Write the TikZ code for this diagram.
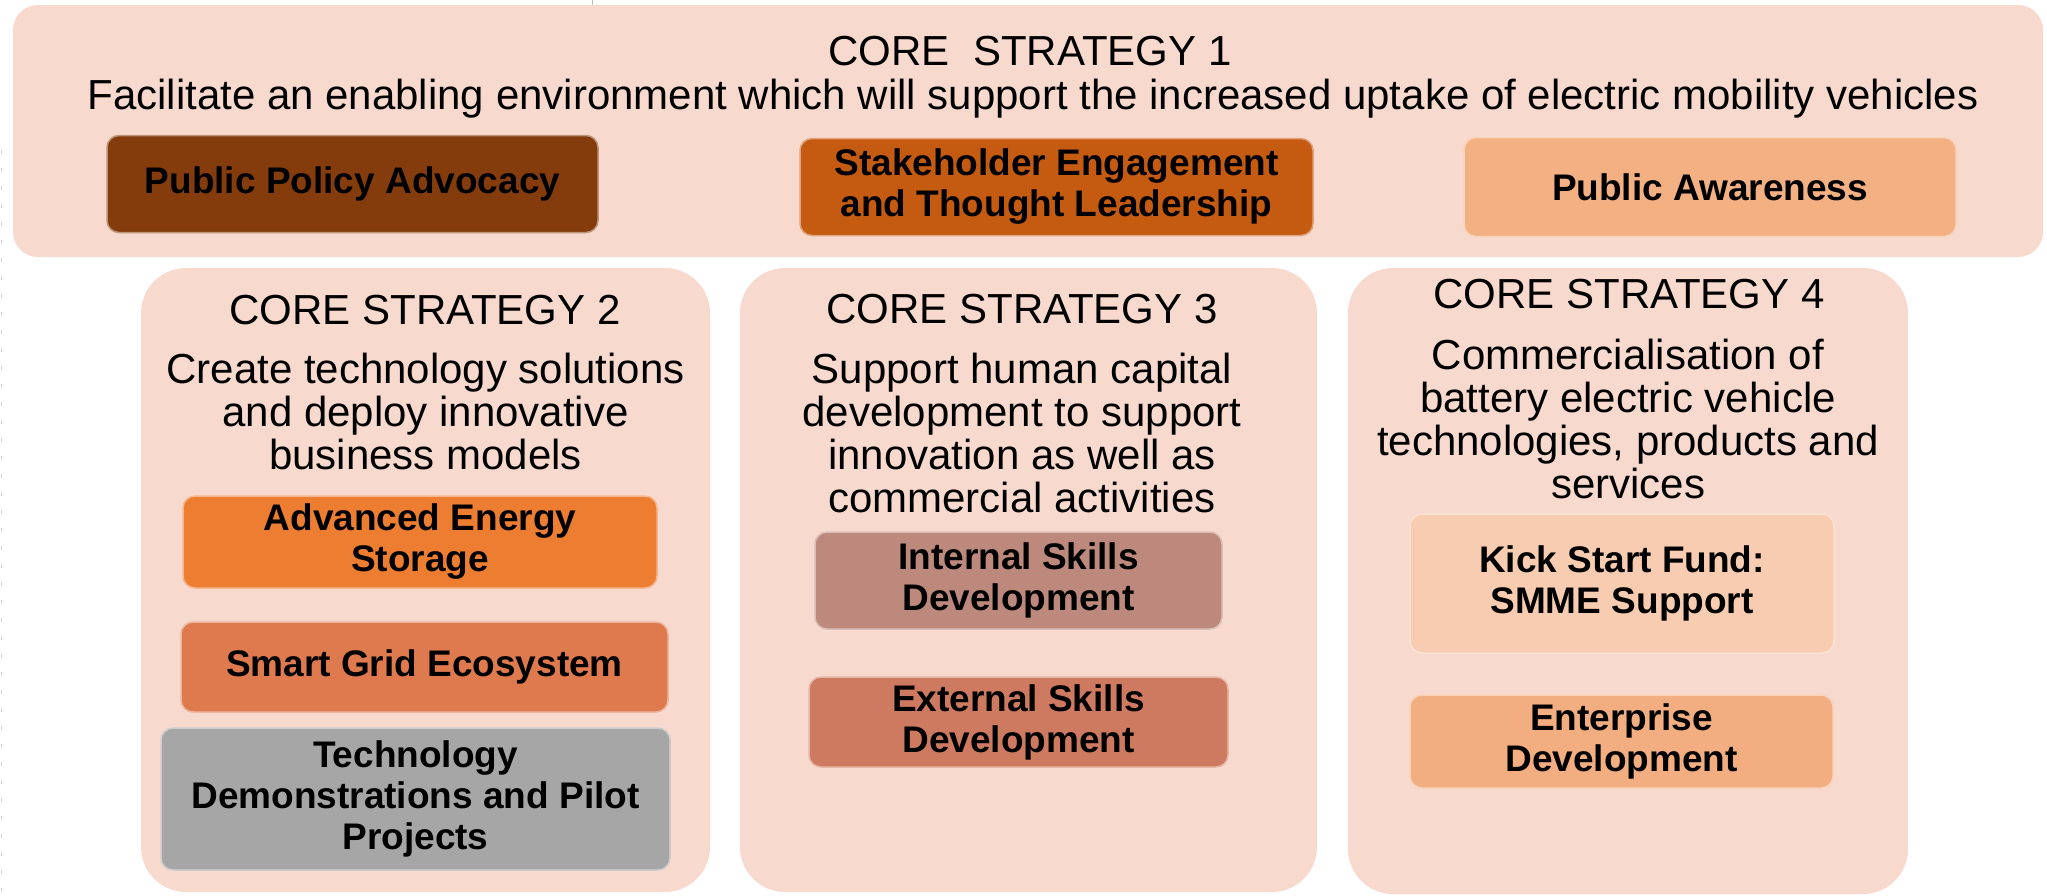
\documentclass[tikz,border=0pt]{standalone}
\usepackage{fontspec}
\setmainfont{Liberation Sans}
\usetikzlibrary{positioning}
\definecolor{panelpeach}{RGB}{248,217,206}
\definecolor{policybrown}{RGB}{132,60,12}
\definecolor{stakeorange}{RGB}{197,90,17}
\definecolor{awarepeach}{RGB}{243,176,131}
\definecolor{storageorange}{RGB}{237,125,49}
\definecolor{gridorange}{RGB}{223,122,78}
\definecolor{demogray}{RGB}{166,166,166}
\definecolor{internalmauve}{RGB}{189,137,124}
\definecolor{externalrust}{RGB}{206,122,97}
\definecolor{kickpeach}{RGB}{248,204,176}
\definecolor{enterprisepeach}{RGB}{242,174,129}
\newcommand{\cshead}{\fontsize{42}{43}\selectfont}
\newcommand{\csitem}{\bfseries\fontsize{37}{41}\selectfont}

\begin{document}
\begin{tikzpicture}[x=1pt,y=-1pt,
    panel/.style={fill=panelpeach, rounded corners=#1, inner sep=0pt},
    subbox/.style={fill=#1, draw=#1!55!white, line width=1.5pt, rounded corners=12pt,
        inner sep=0pt, align=center, font=\csitem},
    headline/.style={anchor=base, inner sep=0pt, font=\cshead},
    aimtext/.style={anchor=north, inner sep=0pt, align=center, font=\cshead}]
\useasboundingbox (0,0) rectangle (2047,895);
\draw[gray!35, line width=1.5pt, dash pattern=on 4pt off 14pt] (1.5,150)--(1.5,895);
\draw[gray!50] (592,0)--(592,5);
% core strategy 1
\node (cs1) at (1028,131) [panel=25pt, minimum width=2030pt, minimum height=252pt]{};
\node (cs1title) at (1030,65) [headline]{CORE\ \ STRATEGY 1};
\node (cs1text) at (1033,109) [headline]{Facilitate an enabling environment which will support the increased uptake of electric mobility vehicles};
\node (policy) at (352.5,184) [subbox=policybrown, minimum width=491pt, minimum height=97pt]{Public Policy Advocacy};
\node (stake) at (1056.5,187) [subbox=stakeorange, minimum width=513pt, minimum height=97pt]{Stakeholder Engagement\\and Thought Leadership};
\node (aware) at (1710,187) [subbox=awarepeach, minimum width=492pt, minimum height=99pt]{Public Awareness};
% core strategy 2
\node (cs2) at (425.5,580) [panel=45pt, minimum width=569pt, minimum height=624pt]{};
\node (cs2title) at (425,324) [headline]{CORE STRATEGY 2};
\node (cs2text) at (425.5,353) [aimtext]{Create technology solutions\\and deploy innovative\\business models};
\node (storage) at (420,542) [subbox=storageorange, minimum width=474pt, minimum height=92pt]{Advanced Energy\\Storage};
\node (grid) at (424.5,667) [subbox=gridorange, minimum width=487pt, minimum height=90pt]{Smart Grid Ecosystem};
\node (demo) at (415.5,799) [subbox=demogray, minimum width=509pt, minimum height=142pt]{Technology\\Demonstrations and Pilot\\Projects};
% core strategy 3
\node (cs3) at (1028.5,580) [panel=45pt, minimum width=577pt, minimum height=624pt]{};
\node (cs3title) at (1022,323) [headline]{CORE STRATEGY 3};
\node (cs3text) at (1022,353) [aimtext]{Support human capital\\development to support\\innovation as well as\\commercial activities};
\node (internal) at (1018.5,580.5) [subbox=internalmauve, minimum width=407pt, minimum height=97pt]{Internal Skills\\Development};
\node (external) at (1018.5,722) [subbox=externalrust, minimum width=419pt, minimum height=90pt]{External Skills\\Development};
% core strategy 4
\node (cs4) at (1628,581) [panel=45pt, minimum width=560pt, minimum height=626pt]{};
\node (cs4title) at (1629,308) [headline]{CORE STRATEGY 4};
\node (cs4text) at (1628,339) [aimtext]{Commercialisation of\\battery electric vehicle\\technologies, products and\\services};
\node (kick) at (1622,583.5) [subbox=kickpeach, minimum width=424pt, minimum height=139pt]{Kick Start Fund:\\SMME Support};
\node (enterprise) at (1621.5,741.5) [subbox=enterprisepeach, minimum width=423pt, minimum height=93pt]{Enterprise\\Development};
\end{tikzpicture}
\end{document}
